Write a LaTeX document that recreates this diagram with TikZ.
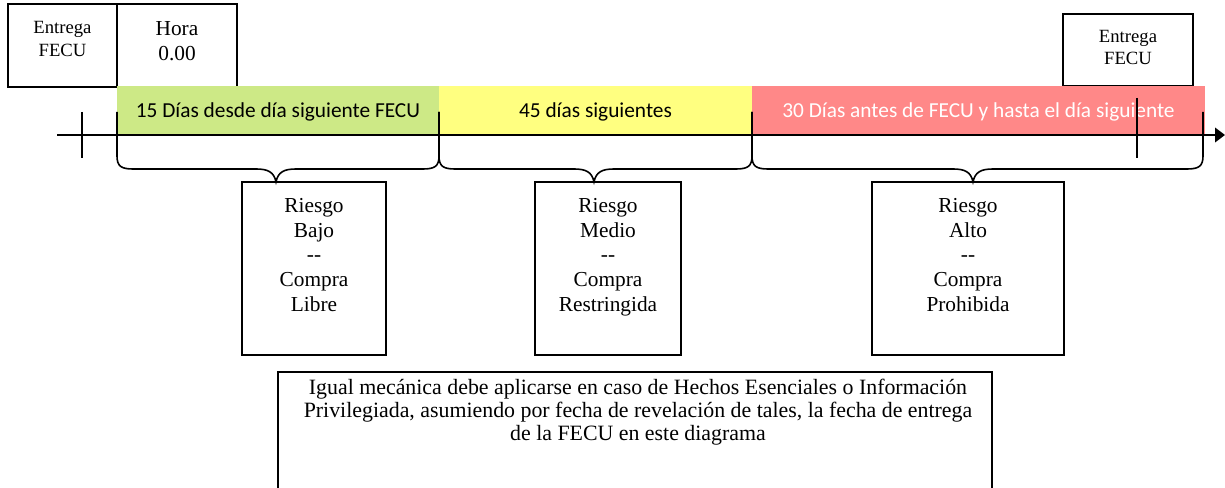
\documentclass[tikz,border=0pt]{standalone}
\usepackage{fontspec}
\setmainfont{Liberation Serif}
\newfontfamily\calibri{Carlito}
\usetikzlibrary{arrows.meta}
\definecolor{bandgreen}{RGB}{205,233,134}
\definecolor{bandyellow}{RGB}{255,255,128}
\definecolor{bandred}{RGB}{255,136,136}
\tikzset{
  box/.style={draw, line width=1.1pt, inner sep=0pt},
  lbl/.style={align=center, inner sep=0pt, font=\fontsize{16}{18.4}\selectfont},
  risklbl/.style={lbl, anchor=north},
  smalllbl/.style={align=center, inner sep=0pt, font=\fontsize{14}{17.25}\selectfont},
  band/.style={inner sep=0pt, minimum height=36pt, text height=12pt, text depth=1pt, font=\calibri\fontsize{16}{18}\selectfont},
  brace/.style={line width=1.2pt},
  tick/.style={line width=1.2pt}
}
\newcommand\mybrace[3]{%
  \draw[brace] (#1,112) -- (#1,156) .. controls (#1,166) and (#1+4,169) .. (#1+16,169)
    -- (#2-20,169) .. controls (#2-8,169) and (#2-2,172) .. (#2,182)
    .. controls (#2+2,172) and (#2+8,169) .. (#2+20,169)
    -- (#3-16,169) .. controls (#3-4,169) and (#3,166) .. (#3,156) -- (#3,112);}
\begin{document}
\begin{tikzpicture}[x=0.75pt,y=-0.75pt]
\useasboundingbox (0,0) rectangle (1225,488);
% top boxes
\node[box, minimum width=81.75pt, minimum height=62.25pt] (entA) at (62.5,45.5) {};
\node[smalllbl] (entAt) at (62.5,38.5) {Entrega\\FECU};
\node[box, minimum width=90pt, minimum height=62.25pt] (hora) at (177,45.5) {};
\node[lbl] (horat) at (177,41) {Hora\\0.00};
\node[box, minimum width=97.5pt, minimum height=54pt] (entB) at (1128,50) {};
\node[smalllbl, font=\fontsize{14}{16}\selectfont] (entBt) at (1128,47.5) {Entrega\\FECU};
% bands
\node[band, fill=bandgreen, minimum width=241.5pt] (g) at (278,110) {15 Días desde día siguiente FECU};
\node[band, fill=bandyellow, minimum width=234.75pt] (y) at (595.5,110) {45 días siguientes};
\node[band, fill=bandred, text=white, minimum width=339.75pt] (r) at (978.5,110) {30 Días antes de FECU y hasta el día siguiente};
% axis
\coordinate (a0) at (57,135);
\coordinate (a1) at (1225,135);
\draw[line width=1.1pt, -{Triangle[length=7.5pt,width=11pt]}] (a0) -- (a1);
\coordinate (t1a) at (82,112); \coordinate (t1b) at (82,158);
\draw[tick] (t1a) -- (t1b);
\coordinate (t2a) at (1137,98); \coordinate (t2b) at (1137,158);
\draw[tick] (t2a) -- (t2b);
% braces
\mybrace{117}{276}{439}
\mybrace{439}{594}{752}
\mybrace{752}{973}{1203}
% risk boxes
\node[box, minimum width=108pt, minimum height=129.75pt] (r1) at (314,268.5) {};
\node[risklbl] (r1t) at (314,198.5) {Riesgo\\Bajo\\-{}-\\Compra\\Libre};
\node[box, minimum width=109.5pt, minimum height=129.75pt] (r2) at (608,268.5) {};
\node[risklbl] (r2t) at (608,198.5) {Riesgo\\Medio\\-{}-\\Compra\\Restringida};
\node[box, minimum width=144pt, minimum height=129.75pt] (r3) at (968,268.5) {};
\node[risklbl] (r3t) at (968,198.5) {Riesgo\\Alto\\-{}-\\Compra\\Prohibida};
% bottom note
\coordinate (n1) at (278,489); \coordinate (n2) at (278,372);
\coordinate (n3) at (992,372); \coordinate (n4) at (992,489);
\draw[line width=1.1pt] (n1) -- (n2) -- (n3) -- (n4);
\node[lbl, font=\fontsize{16.4}{17.5}\selectfont] (nota) at (638,412) {Igual mecánica debe aplicarse en caso de Hechos Esenciales o Información\\Privilegiada, asumiendo por fecha de revelación de tales, la fecha de entrega\\de la FECU en este diagrama};
\end{tikzpicture}
\end{document}
